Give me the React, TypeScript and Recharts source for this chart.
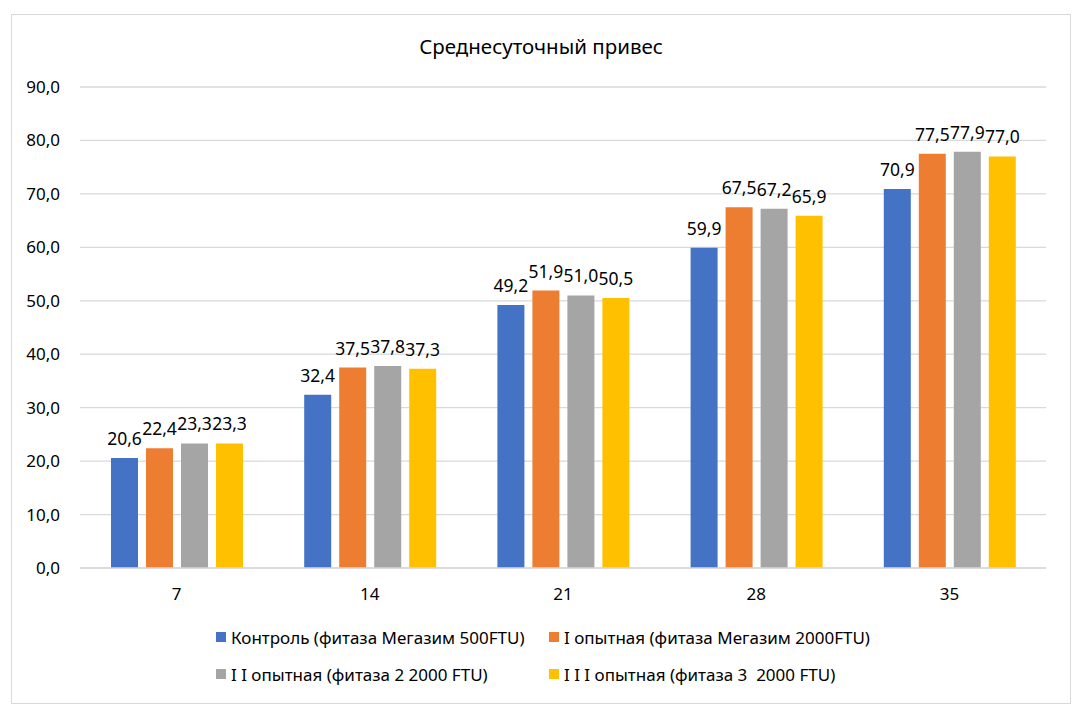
import React from "react";
import { BarChart, Bar, XAxis, YAxis, CartesianGrid, LabelList } from "recharts";

const days = ["7", "14", "21", "28", "35"];
const control = [20.6, 32.4, 49.2, 59.9, 70.9];
const group1 = [22.4, 37.5, 51.9, 67.5, 77.5];
const group2 = [23.3, 37.8, 51.0, 67.2, 77.9];
const group3 = [23.3, 37.3, 50.5, 65.9, 77.0];
const yTicks = [0, 10, 20, 30, 40, 50, 60, 70, 80, 90];

const seriesNames = [
  "Контроль (фитаза Мегазим 500FTU)",
  "I опытная (фитаза Мегазим 2000FTU)",
  "I I опытная (фитаза 2 2000 FTU)",
  "I I I опытная (фитаза 3  2000 FTU)",
];
const colors = ["#4472C4", "#ED7D31", "#A5A5A5", "#FFC000"];
const title = "Среднесуточный привес";

const data = days.map((d, i) => ({
  day: d,
  s0: control[i],
  s1: group1[i],
  s2: group2[i],
  s3: group3[i],
}));

const FONT = "'Noto Sans', sans-serif";
const fmt = (v: number) => v.toFixed(1).replace(".", ",");

const LegendBlock = () => (
  <div
    style={{
      position: "absolute",
      top: 610,
      left: 204,
      display: "grid",
      gridTemplateColumns: "333px 360px",
      rowGap: 13,
      fontFamily: FONT,
      fontSize: 17,
      color: "#000",
    }}
  >
    {seriesNames.map((n, i) => (
      <div key={i} style={{ display: "flex", alignItems: "center", whiteSpace: "pre", height: 24 }}>
        <span style={{ width: 10, height: 10, background: colors[i], display: "inline-block", marginRight: 5 }} />
        {n}
      </div>
    ))}
  </div>
);

export default function App() {
  return (
    <div style={{ paddingLeft: 3, paddingTop: 6 }}>
      <div
        style={{
          position: "relative",
          width: 1058,
          height: 688,
          border: "1px solid #d9d9d9",
          background: "#fff",
        }}
      >
        <div
          style={{
            position: "absolute",
            top: 17,
            left: 0,
            width: "100%",
            textAlign: "center",
            fontFamily: FONT,
            fontSize: 20.5,
            color: "#000",
          }}
        >
          {title}
        </div>
        <BarChart
          width={1058}
          height={688}
          data={data}
          margin={{ top: 72, right: 24, bottom: 105, left: 0 }}
          barSize={27}
          barGap={8}
        >
          <CartesianGrid vertical={false} stroke="#d9d9d9" strokeWidth={1.3} />
          <XAxis
            dataKey="day"
            axisLine={{ stroke: "#d9d9d9", strokeWidth: 1.3 }}
            tickLine={false}
            tick={{ fill: "#000", fontSize: 17, fontFamily: FONT }}
            tickMargin={14}
            height={30}
          />
          <YAxis
            domain={[0, 90]}
            ticks={yTicks}
            tickFormatter={fmt}
            axisLine={false}
            tickLine={false}
            tick={{ fill: "#000", fontSize: 17, fontFamily: FONT }}
            tickMargin={14}
            width={68}
          />
          {["s0", "s1", "s2", "s3"].map((k, i) => (
            <Bar key={k} dataKey={k} name={seriesNames[i]} fill={colors[i]} isAnimationActive={false}>
              <LabelList
                dataKey={k}
                position="top"
                offset={13}
                formatter={(v: any) => fmt(Number(v))}
                style={{ fill: "#000", fontSize: 17.5, fontFamily: FONT }}
              />
            </Bar>
          ))}
        </BarChart>
        <LegendBlock />
      </div>
    </div>
  );
}
